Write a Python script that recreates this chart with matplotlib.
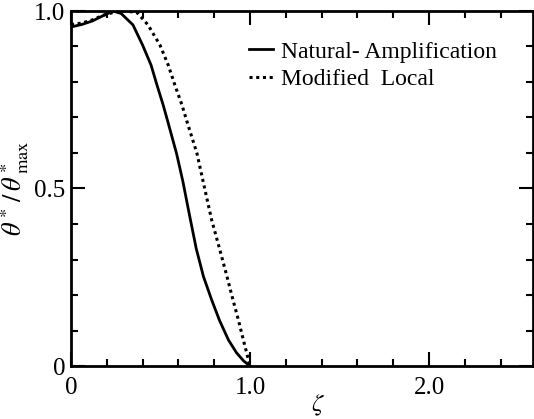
import numpy as np
import matplotlib
matplotlib.use('Agg')
import matplotlib.pyplot as plt
from matplotlib.ticker import MultipleLocator

plt.rcParams['font.family'] = ['Liberation Serif', 'DejaVu Serif']
plt.rcParams['mathtext.fontset'] = 'stix'

zeta_na = [0.0, 0.06, 0.12, 0.18, 0.235, 0.28, 0.346, 0.40, 0.447, 0.48, 0.515, 0.54,
           0.59, 0.625, 0.66, 0.70, 0.74, 0.786, 0.83, 0.88, 0.925, 0.965, 1.0]
natural_amp = [0.955, 0.962, 0.972, 0.987, 1.0, 0.993, 0.961, 0.904, 0.848, 0.792, 0.735, 0.69,
               0.598, 0.52, 0.43, 0.33, 0.252, 0.186, 0.128, 0.073, 0.037, 0.014, 0.0]
zeta_ml = [0.0, 0.06, 0.12, 0.18, 0.25, 0.31, 0.37, 0.43, 0.497, 0.543, 0.58, 0.62, 0.65,
           0.703, 0.749, 0.786, 0.83, 0.87, 0.905, 0.935, 0.963, 0.985, 1.0]
modified_local = [0.962, 0.966, 0.975, 0.988, 0.998, 1.0, 0.995, 0.961, 0.904, 0.848, 0.792, 0.735, 0.685,
                  0.60, 0.495, 0.411, 0.33, 0.255, 0.186, 0.13, 0.073, 0.03, 0.0]

fig = plt.figure(figsize=(5.34, 4.19), dpi=100)
ax = fig.add_axes([71/534, 53/419, 462/534, 355/419])

ax.plot(zeta_na, natural_amp, '-', color='black', lw=2.0, label='Natural- Amplification')
ax.plot(zeta_ml, modified_local, color='black', lw=2.2, linestyle=(0, (1, 1.2)),
        label='Modified  Local')

ax.set_xlim(0, 462/179)
ax.set_ylim(0, 1.0)

ax.xaxis.set_minor_locator(MultipleLocator(0.2))
ax.yaxis.set_minor_locator(MultipleLocator(0.1))
ax.set_xticks([0, 1.0, 2.0])
ax.set_xticklabels(['0', '1.0', '2.0'])
ax.set_yticks([0, 0.5, 1.0])
ax.set_yticklabels(['0', '0.5', '1.0'])

ax.tick_params(which='both', direction='in', top=True, right=True, width=1.5,
               labelsize=18)
ax.tick_params(axis='x', pad=8)
ax.tick_params(axis='y', pad=4)
ax.tick_params(which='major', length=10)
ax.tick_params(which='minor', length=5)
for s in ax.spines.values():
    s.set_linewidth(2.0)

ax.set_xlabel(r'$\zeta$', fontsize=18)
ax.xaxis.set_label_coords((318 - 71) / 462, -0.11)
ax.xaxis.label.set_va('center')
ax.set_ylabel(r'$\theta^*\,/\,\theta^*_{\ \mathrm{max}}$', fontsize=19, labelpad=2)

ax.legend(loc='upper left', bbox_to_anchor=(0.34, 0.975), frameon=False,
          fontsize=17, handlelength=1.0, handletextpad=0.35, labelspacing=0.25)

fig.savefig('out.png', dpi=100)
